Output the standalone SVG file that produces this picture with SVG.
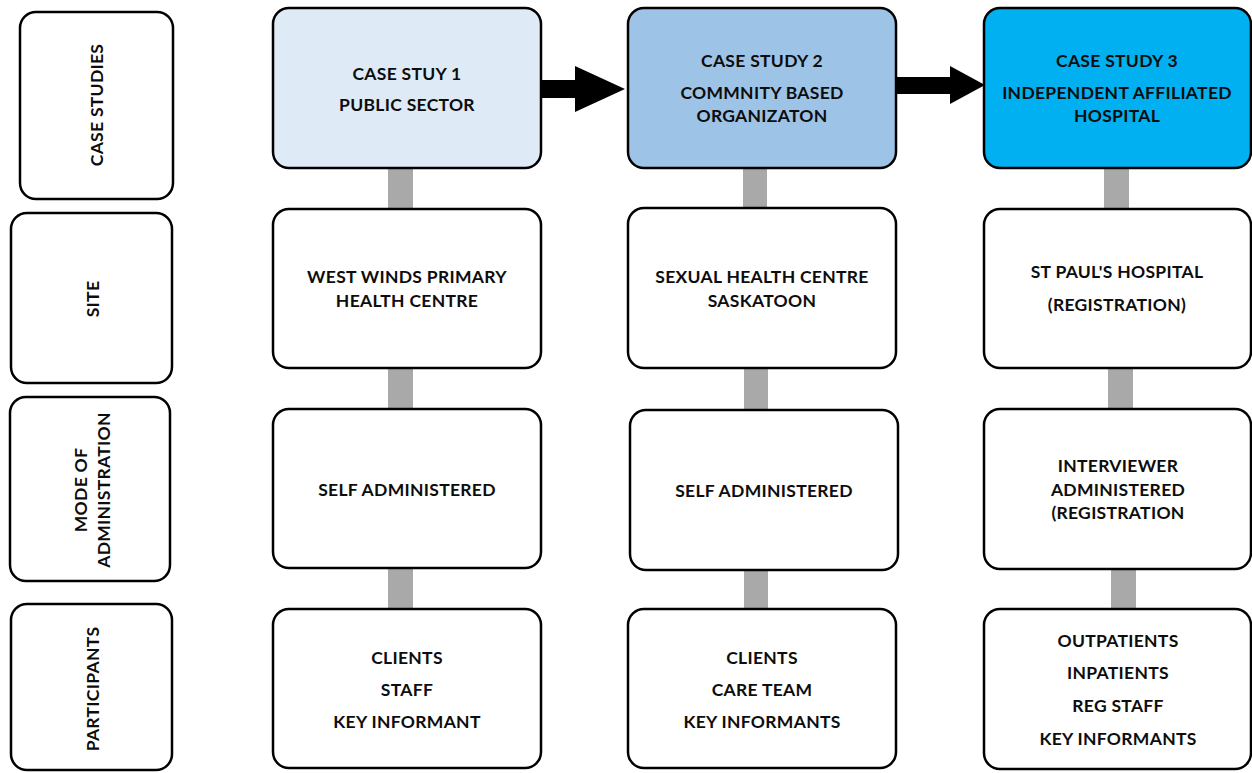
<svg xmlns="http://www.w3.org/2000/svg" width="1252" height="773" viewBox="0 0 1252 773">
<style>
.box{fill:#fff;stroke:#000;stroke-width:2.5}
.t{font-family:Lato,"Open Sans","Liberation Sans",sans-serif;font-weight:bold;font-size:17.5px;letter-spacing:0.3px;fill:#0d0d0d;text-anchor:middle;dominant-baseline:central}
.bar{fill:#a9a9a9}
</style>
<rect width="1252" height="773" fill="#fff"/>
<g id="connectors">
<rect class="bar" x="388" y="168" width="25" height="42"/>
<rect class="bar" x="388" y="368" width="25" height="42"/>
<rect class="bar" x="388" y="568" width="25" height="42"/>
<rect class="bar" x="743" y="168" width="24" height="42"/>
<rect class="bar" x="744" y="368" width="24" height="43"/>
<rect class="bar" x="744" y="570" width="24" height="40"/>
<rect class="bar" x="1104" y="168" width="25" height="42"/>
<rect class="bar" x="1108" y="368" width="25" height="42"/>
<rect class="bar" x="1111" y="569" width="25" height="41"/>
<polygon points="541,80 575,80 575,66 625,89 575,112 575,98 541,98" fill="#000"/>
<polygon points="896,77 950,77 950,66 985,85 950,104 950,94 896,94" fill="#000"/>
</g>
<g id="label-case-studies">
<rect class="box" x="20" y="12" width="153" height="187" rx="16"/>
<text class="t" transform="translate(96,105) rotate(-90)">CASE STUDIES</text>
</g>
<g id="label-site">
<rect class="box" x="11" y="213" width="161" height="170" rx="16"/>
<text class="t" transform="translate(92,299) rotate(-90)">SITE</text>
</g>
<g id="label-mode">
<rect class="box" x="10" y="397" width="160" height="184" rx="16"/>
<text class="t" transform="translate(80,490) rotate(-90)">MODE OF</text>
<text class="t" transform="translate(103,490) rotate(-90)">ADMINISTRATION</text>
</g>
<g id="label-participants">
<rect class="box" x="11" y="604" width="161" height="166" rx="16"/>
<text class="t" transform="translate(92,689) rotate(-90)">PARTICIPANTS</text>
</g>
<g id="cs1">
<rect class="box" x="273" y="8" width="268" height="160" rx="16" style="fill:#deeaf6"/>
<text class="t" x="407" y="73">CASE STUY 1</text>
<text class="t" x="407" y="104">PUBLIC SECTOR</text>
</g>
<g id="cs2">
<rect class="box" x="628" y="8" width="268" height="160" rx="16" style="fill:#9dc3e6"/>
<text class="t" x="762" y="60">CASE STUDY 2</text>
<text class="t" x="762" y="92">COMMNITY BASED</text>
<text class="t" x="762" y="115">ORGANIZATON</text>
</g>
<g id="cs3">
<rect class="box" x="984" y="8" width="267" height="160" rx="16" style="fill:#00b0f0"/>
<text class="t" x="1117" y="60">CASE STUDY 3</text>
<text class="t" x="1117" y="92">INDEPENDENT AFFILIATED</text>
<text class="t" x="1117" y="115">HOSPITAL</text>
</g>
<g id="site1">
<rect class="box" x="273" y="209" width="268" height="159" rx="16"/>
<text class="t" x="407" y="276">WEST WINDS PRIMARY</text>
<text class="t" x="407" y="300">HEALTH CENTRE</text>
</g>
<g id="site2">
<rect class="box" x="628" y="208" width="268" height="160" rx="16"/>
<text class="t" x="762" y="276">SEXUAL HEALTH CENTRE</text>
<text class="t" x="762" y="300">SASKATOON</text>
</g>
<g id="site3">
<rect class="box" x="984" y="209" width="267" height="159" rx="16"/>
<text class="t" x="1117" y="271">ST PAUL'S HOSPITAL</text>
<text class="t" x="1117" y="304">(REGISTRATION)</text>
</g>
<g id="mode1">
<rect class="box" x="273" y="409" width="268" height="159" rx="16"/>
<text class="t" x="407" y="489">SELF ADMINISTERED</text>
</g>
<g id="mode2">
<rect class="box" x="630" y="410" width="268" height="160" rx="16"/>
<text class="t" x="764" y="490">SELF ADMINISTERED</text>
</g>
<g id="mode3">
<rect class="box" x="984" y="409" width="267" height="160" rx="16"/>
<text class="t" x="1118" y="465">INTERVIEWER</text>
<text class="t" x="1118" y="489">ADMINISTERED</text>
<text class="t" x="1118" y="512">(REGISTRATION</text>
</g>
<g id="part1">
<rect class="box" x="273" y="609" width="268" height="159" rx="16"/>
<text class="t" x="407" y="657">CLIENTS</text>
<text class="t" x="407" y="689">STAFF</text>
<text class="t" x="407" y="721">KEY INFORMANT</text>
</g>
<g id="part2">
<rect class="box" x="628" y="609" width="268" height="159" rx="16"/>
<text class="t" x="762" y="657">CLIENTS</text>
<text class="t" x="762" y="689">CARE TEAM</text>
<text class="t" x="762" y="721">KEY INFORMANTS</text>
</g>
<g id="part3">
<rect class="box" x="984" y="609" width="267" height="160" rx="16"/>
<text class="t" x="1118" y="640">OUTPATIENTS</text>
<text class="t" x="1118" y="672">INPATIENTS</text>
<text class="t" x="1118" y="705">REG STAFF</text>
<text class="t" x="1118" y="738">KEY INFORMANTS</text>
</g>
</svg>
